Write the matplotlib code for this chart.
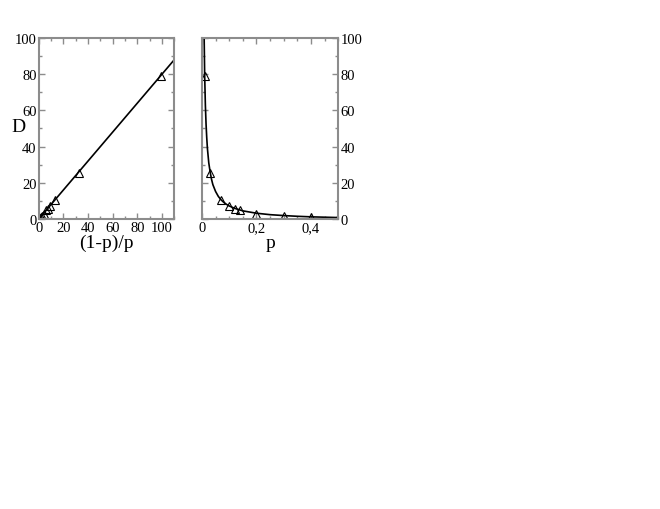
import matplotlib
matplotlib.use("Agg")
import matplotlib.pyplot as plt
from matplotlib.ticker import MultipleLocator

plt.rcParams['font.family'] = ['Liberation Serif', 'DejaVu Serif']

# measured points
p_vals = [0.01, 0.03, 0.07, 0.10, 0.12, 0.14, 0.20, 0.30, 0.40, 0.50]
x_vals = [99.0, 32.3, 13.3, 9.0, 7.3, 6.1, 4.0, 2.33, 1.5, 1.0]
D_vals = [79.0, 25.5, 10.5, 7.0, 5.8, 4.8, 3.0, 1.8, 1.2, 0.8]

# fit line (left)
line_x = [0, 110]
line_D = [0, 88]

# fit curve (right)
curve_p = [0.0075, 0.01, 0.0125, 0.015, 0.0175, 0.02, 0.025, 0.03, 0.035, 0.04,
           0.05, 0.06, 0.07, 0.08, 0.09, 0.1, 0.12, 0.15, 0.2, 0.25, 0.3, 0.35,
           0.4, 0.45, 0.5]
curve_D = [106, 79, 63, 52.5, 45, 39, 31, 26, 22, 19,
           15.2, 12.5, 10.6, 9.2, 8.1, 7.2, 5.9, 4.5, 3.2, 2.4, 1.9, 1.5,
           1.2, 1.0, 0.8]

frame_col = '#8c8c8c'

fig = plt.figure(figsize=(6.6, 5.1), dpi=100)
ax1 = fig.add_axes([0.0586, 0.5686, 0.2055, 0.355])
ax2 = fig.add_axes([0.306, 0.5686, 0.2065, 0.355])


def style(ax):
    for s in ax.spines.values():
        s.set_color(frame_col)
        s.set_linewidth(1.5)
    ax.tick_params(which='both', direction='in', colors=frame_col,
                   labelcolor='black', labelsize=10.5, pad=1.5,
                   top=True, bottom=True, left=True, right=True)
    ax.tick_params(which='major', length=4.5, width=1)
    ax.tick_params(which='minor', length=2.5, width=1)


ax1.plot(line_x, line_D, color='black', lw=1.2)
ax1.plot(x_vals, D_vals, linestyle='none', marker='^', ms=6,
         mfc='none', mec='black', mew=0.8)
ax1.set_xlim(0, 110)
ax1.set_ylim(0, 100)
ax1.xaxis.set_major_locator(MultipleLocator(20))
ax1.xaxis.set_minor_locator(MultipleLocator(10))
ax1.yaxis.set_major_locator(MultipleLocator(20))
ax1.yaxis.set_minor_locator(MultipleLocator(10))
style(ax1)
ax1.set_xlabel('(1-p)/p', fontsize=14, labelpad=0)
ax1.set_ylabel('D', fontsize=14, rotation=0, va='center', ha='center')
ax1.yaxis.set_label_coords(-0.15, 0.51)

ax2.plot(curve_p, curve_D, color='black', lw=1.2)
ax2.plot(p_vals, D_vals, linestyle='none', marker='^', ms=6,
         mfc='none', mec='black', mew=0.8)
ax2.set_xlim(0, 0.5)
ax2.set_ylim(0, 100)
ax2.xaxis.set_major_locator(MultipleLocator(0.2))
ax2.xaxis.set_minor_locator(MultipleLocator(0.05))
ax2.yaxis.set_major_locator(MultipleLocator(20))
ax2.yaxis.set_minor_locator(MultipleLocator(10))
style(ax2)
ax2.tick_params(labelleft=False, labelright=True)
ax2.set_xticks([0, 0.2, 0.4])
ax2.set_xticklabels(['0', '0,2', '0,4'])
ax2.set_xlabel('p', fontsize=14, labelpad=0)

fig.savefig('out.png', dpi=100)
